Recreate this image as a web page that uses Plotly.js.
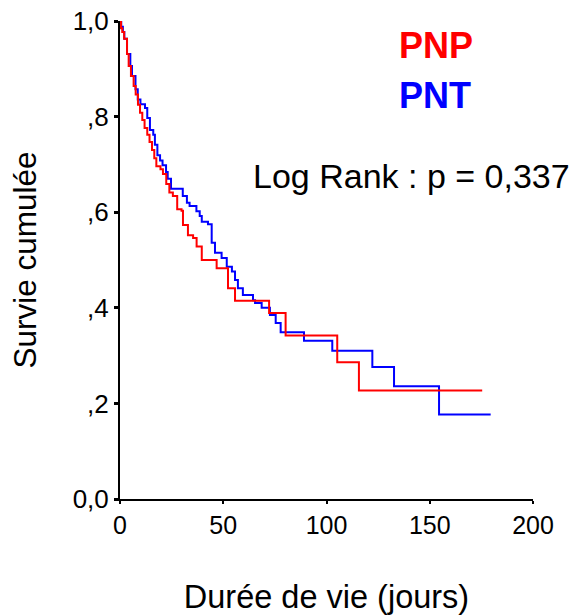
<!DOCTYPE html>
<html>
<head>
<meta charset="utf-8">
<script src="https://cdn.plot.ly/plotly-3.0.1.min.js"></script>
<style>html,body{margin:0;padding:0;background:#fff;}#chart{width:576px;height:615px;}</style>
</head>
<body>
<div id="chart"></div>
<script>
// PNP group (red): times of drops (days) and survival after each drop
const pnpTime = [0, 0.5, 1.1, 2.0, 3.4, 4.2, 5.3, 6.6, 7.6, 8.7, 9.7, 10.8, 11.9, 13.2, 14.3, 15.5, 16.6, 17.6, 19.6, 20.8, 22.4, 23.9, 25.6, 27.7, 29.8, 30.5, 32.9, 35.4, 37.1, 39.6, 46.8, 52.3, 55.7, 72.2, 80.2, 105.2, 115.7, 175.4];
const pnpSurv = [1.0, 0.985, 0.977, 0.963, 0.931, 0.906, 0.885, 0.864, 0.846, 0.825, 0.808, 0.793, 0.776, 0.762, 0.747, 0.730, 0.713, 0.696, 0.690, 0.680, 0.659, 0.641, 0.634, 0.606, 0.603, 0.573, 0.552, 0.546, 0.528, 0.500, 0.483, 0.441, 0.415, 0.389, 0.342, 0.286, 0.227, 0.227];

// PNT group (blue)
const pntTime = [0, 0.6, 1.4, 2.1, 3.4, 5.0, 5.8, 7.5, 8.6, 9.9, 12.1, 13.2, 14.5, 16.1, 16.9, 18.1, 19.4, 20.6, 22.3, 23.1, 24.7, 30.4, 32.4, 33.7, 37.0, 38.6, 39.6, 42.6, 44.4, 46.0, 49.2, 51.7, 54.2, 55.7, 57.1, 59.5, 64.4, 65.4, 68.6, 72.6, 75.4, 77.8, 89.1, 102.8, 122.2, 132.7, 154.5, 179.5];
const pntSurv = [1.0, 0.988, 0.977, 0.963, 0.931, 0.906, 0.885, 0.857, 0.836, 0.826, 0.818, 0.797, 0.772, 0.762, 0.741, 0.719, 0.708, 0.698, 0.684, 0.670, 0.649, 0.634, 0.620, 0.613, 0.602, 0.592, 0.580, 0.575, 0.536, 0.515, 0.504, 0.486, 0.476, 0.458, 0.441, 0.427, 0.416, 0.410, 0.400, 0.385, 0.368, 0.349, 0.331, 0.310, 0.276, 0.236, 0.177, 0.177];

const yTickVals = [0, 0.2, 0.4, 0.6, 0.8, 1.0];
const yTickText = ["0,0", ",2", ",4", ",6", ",8", "1,0"];
const xTickVals = [0, 50, 100, 150, 200];
const xTickText = ["0", "50", "100", "150", "200"];

const FONT = "Liberation Sans, Arial, Helvetica, sans-serif";

const traces = [
  {x: pntTime, y: pntSurv, type: 'scatter', mode: 'lines', line: {shape: 'hv', color: '#0000ff', width: 2}, name: 'PNT'},
  {x: pnpTime, y: pnpSurv, type: 'scatter', mode: 'lines', line: {shape: 'hv', color: '#ff0000', width: 2}, name: 'PNP'}
];

const layout = {
  width: 576, height: 615,
  margin: {l: 120, r: 43, t: 21, b: 116},
  paper_bgcolor: '#fff', plot_bgcolor: '#fff',
  showlegend: false,
  font: {family: FONT, color: '#000'},
  xaxis: {
    range: [0, 200], tickvals: xTickVals, ticktext: xTickText,
    showgrid: false, zeroline: false, showline: true, linecolor: '#000', linewidth: 2,
    ticks: 'outside', ticklen: 3, tickwidth: 2, tickcolor: '#000',
    tickfont: {size: 25, family: FONT, color: '#000'},
    title: {text: 'Durée de vie (jours)', font: {size: 32.5, family: FONT, color: '#000'}, standoff: 47}
  },
  yaxis: {
    range: [0, 1], tickvals: yTickVals, ticktext: yTickText,
    showgrid: false, zeroline: false, showline: true, linecolor: '#000', linewidth: 2,
    ticks: 'outside', ticklen: 4, tickwidth: 3, tickcolor: '#000',
    tickfont: {size: 26, family: FONT, color: '#000'},
    title: {text: 'Survie cumulée', font: {size: 31.5, family: FONT, color: '#000'}, standoff: 27}
  },
  annotations: [
    {xref: 'paper', yref: 'paper', x: (436 - 120) / 413, y: (499 - 45) / 478, text: '<b>PNP</b>', showarrow: false, xanchor: 'center', yanchor: 'middle', font: {size: 36, family: FONT, color: '#ff0000'}},
    {xref: 'paper', yref: 'paper', x: (435 - 120) / 413, y: (499 - 95) / 478, text: '<b>PNT</b>', showarrow: false, xanchor: 'center', yanchor: 'middle', font: {size: 36, family: FONT, color: '#0000ff'}},
    {xref: 'paper', yref: 'paper', x: (411 - 120) / 413, y: (499 - 176) / 478, text: 'Log Rank : p = 0,337', showarrow: false, xanchor: 'center', yanchor: 'middle', font: {size: 34, family: FONT, color: '#000'}}
  ]
};

Plotly.newPlot('chart', traces, layout, {staticPlot: true, displayModeBar: false});
</script>
</body>
</html>
